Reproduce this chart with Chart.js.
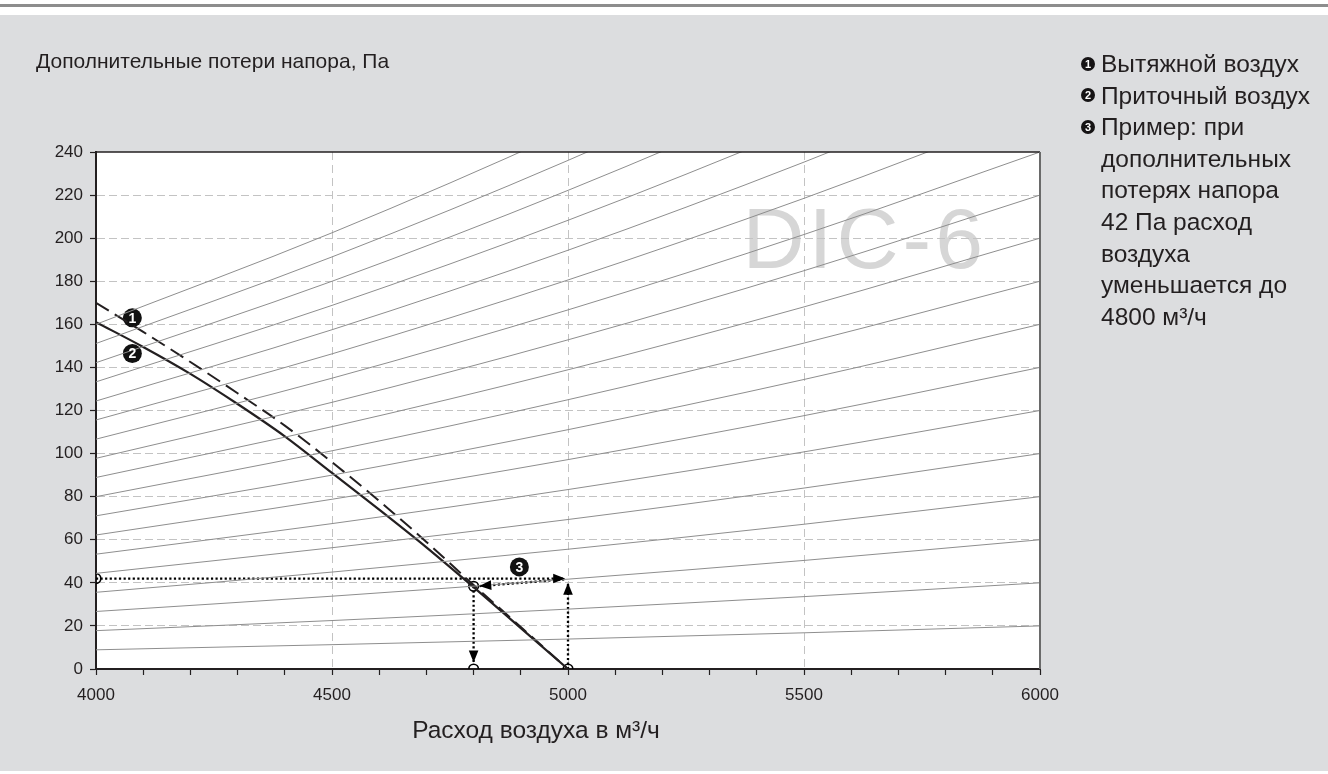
<!DOCTYPE html>
<html lang="ru">
<head>
<meta charset="utf-8">
<title>DIC-6</title>
<script src="https://cdn.jsdelivr.net/npm/chart.js@4.4.1/dist/chart.umd.min.js"></script>
<style>
  html, body { margin: 0; padding: 0; background: #fff; }
  body { width: 1328px; height: 774px; position: relative; overflow: hidden;
         font-family: "Liberation Sans", Arial, sans-serif; color: #231f20; }
  #rule { position: absolute; left: 0; top: 4px; width: 1328px; height: 3px; background: #8d8d8d; }
  #panel { position: absolute; left: 0; top: 15px; width: 1328px; height: 756px; background: #dcdddf; }
  #chartBox { position: absolute; left: 0; top: 0; width: 1328px; height: 774px; }
  #yTitle { position: absolute; left: 36px; top: 49px; font-size: 21px; line-height: 24px; white-space: nowrap; }
  #xTitle { position: absolute; left: 0; width: 1072px; top: 715px; text-align: center;
            font-size: 24.5px; line-height: 30px; white-space: nowrap; }
  #notes { position: absolute; left: 1101px; top: 48px; font-size: 24.5px; line-height: 31.6px; white-space: nowrap; }
  #notes .item { position: relative; }
  #notes .num { position: absolute; left: -20px; top: 8.5px; width: 14px; height: 14px; border-radius: 50%;
                background: #161415; color: #fff; font-size: 11px; font-weight: bold; line-height: 14px; text-align: center; }
</style>
</head>
<body>
<div id="rule"></div>
<div id="panel"></div>
<div id="chartBox"><canvas id="pressureChart" width="1328" height="774"></canvas></div>
<div id="yTitle">Дополнительные потери напора, Па</div>
<div id="xTitle">Расход воздуха в м³/ч</div>
<div id="notes"></div>
<script>
// fan curves, Pa against m3/h
const flowX = [4000, 4100, 4200, 4300, 4400, 4500, 4600, 4700, 4800, 4900, 5000];
const exhaustPa = [170, 156.5, 142.5, 128, 113, 96, 78, 59, 39, 19.5, 0];
const supplyPa = [161, 149.5, 137, 123, 108, 91, 74, 56.5, 38, 19, 0];

// thin duct system curves, read at 4000/4500/5000/5500/6000
const systemX = [4000, 4500, 5000, 5500, 6000];
const systemPa = [
    [8.9, 11.3, 13.9, 16.8, 20],
    [17.8, 22.5, 27.8, 33.6, 40],
    [26.7, 33.8, 41.7, 50.4, 60],
    [35.6, 45, 55.6, 67.2, 80],
    [44.4, 56.3, 69.4, 84, 100],
    [53.3, 67.5, 83.3, 100.8, 120],
    [62.2, 78.8, 97.2, 117.6, 140],
    [71.1, 90, 111.1, 134.4, 160],
    [80, 101.3, 125, 151.3, 180],
    [88.9, 112.5, 138.9, 168.1, 200],
    [97.8, 123.8, 152.8, 184.9, 220],
    [106.7, 135, 166.7, 201.7, 240],
    [115.6, 146.3, 180.6, 218.5, 260],
    [124.4, 157.5, 194.4, 235.3, 280],
    [133.3, 168.8, 208.3, 252.1, 300],
    [142.2, 180, 222.2, 268.9, 320],
    [151.1, 191.3, 236.1, 285.8, 340],
    [160, 202.5, 250, 302.5, 360]
];

// worked example (3): 42 Pa extra -> 4800 m3/h
const exampleRight = [[4000, 42], [4994, 42]];
const exampleUp = [[5000, 0], [5000, 40]];
const exampleBack = [[4992, 41.6], [4900, 40], [4812, 38.5]];
const exampleDown = [[4800, 38.4], [4800, 3]];
const exampleCircles = [[4000, 42], [4800, 38.4], [4800, 0], [5000, 0]];

const curveMarkers = [[4077, 163], [4077, 146.5], [4897, 47.4]];
const markerLabels = ['1', '2', '3'];

const xLabelStep = 500;
const watermark = 'DIC-6';

const notes = [
    { num: '1', lines: ['Вытяжной воздух'] },
    { num: '2', lines: ['Приточный воздух'] },
    { num: '3', lines: ['Пример: при', 'дополнительных', 'потерях напора', '42 Па расход', 'воздуха', 'уменьшается до', '4800 м³/ч'] }
];

const notesBox = document.getElementById('notes');
notes.forEach(n => {
    const item = document.createElement('div');
    item.className = 'item';
    const num = document.createElement('span');
    num.className = 'num';
    num.textContent = n.num;
    item.appendChild(num);
    n.lines.forEach(line => {
        const row = document.createElement('div');
        row.textContent = line;
        item.appendChild(row);
    });
    notesBox.appendChild(item);
});

const toXY = pairs => pairs.map(([x, y]) => ({ x, y }));
const INK = '#231f20';
const GRID = '#c3c3c3';

const datasets = [];
systemPa.forEach(row => {
    datasets.push({
        data: systemX.map((x, i) => ({ x, y: row[i] })),
        showLine: true,
        borderColor: '#8e8e8e',
        borderWidth: 1,
        pointRadius: 0,
        cubicInterpolationMode: 'monotone'
    });
});
datasets.push({
    data: flowX.map((x, i) => ({ x, y: supplyPa[i] })),
    showLine: true,
    borderColor: INK,
    borderWidth: 2.2,
    pointRadius: 0,
    cubicInterpolationMode: 'monotone'
});
datasets.push({
    data: flowX.map((x, i) => ({ x, y: exhaustPa[i] })),
    showLine: true,
    borderColor: INK,
    borderWidth: 2,
    borderDash: [15, 7],
    pointRadius: 0,
    cubicInterpolationMode: 'monotone'
});
[exampleRight, exampleUp, exampleBack, exampleDown].forEach(path => {
    datasets.push({
        data: toXY(path),
        showLine: true,
        borderColor: '#000',
        borderWidth: 2.3,
        borderDash: [2.2, 2.4],
        pointRadius: 0,
        tension: 0.3,
        arrowEnd: true
    });
});
datasets.push({
    data: toXY(exampleCircles),
    showLine: false,
    pointRadius: 4.8,
    pointBorderWidth: 1.6,
    pointBorderColor: '#000',
    pointBackgroundColor: 'rgba(0,0,0,0)'
});
datasets.push({
    data: toXY(curveMarkers),
    showLine: false,
    pointRadius: 9.5,
    pointBorderWidth: 0,
    pointBackgroundColor: '#111',
    markerText: markerLabels
});

const plotBackdrop = {
    id: 'plotBackdrop',
    beforeDraw(chart) {
        const { ctx, chartArea: a } = chart;
        ctx.save();
        ctx.fillStyle = '#fff';
        ctx.fillRect(a.left, a.top, a.right - a.left, a.bottom - a.top);
        ctx.fillStyle = '#d6d6d6';
        ctx.font = '86px "Liberation Sans", Arial, sans-serif';
        ctx.letterSpacing = '4px';
        ctx.textAlign = 'right';
        ctx.textBaseline = 'alphabetic';
        ctx.fillText(watermark, a.right - 53, a.top + 116);
        ctx.restore();
    },
    afterDraw(chart) {
        const { ctx, chartArea: a } = chart;
        ctx.save();
        ctx.strokeStyle = INK;
        ctx.lineWidth = 1.5;
        ctx.beginPath();
        ctx.moveTo(a.left, a.top);
        ctx.lineTo(a.right, a.top);
        ctx.stroke();
        ctx.strokeStyle = '#6a6a6a';
        ctx.lineWidth = 2;
        ctx.beginPath();
        ctx.moveTo(a.right, a.top);
        ctx.lineTo(a.right, a.bottom);
        ctx.stroke();
        ctx.restore();
    }
};

const arrowHeads = {
    id: 'arrowHeads',
    afterDatasetsDraw(chart) {
        const ctx = chart.ctx;
        chart.data.datasets.forEach((ds, i) => {
            const pts = chart.getDatasetMeta(i).data;
            if (ds.arrowEnd) {
                const tip = pts[pts.length - 1];
                const prev = pts[pts.length - 2];
                const ang = Math.atan2(tip.y - prev.y, tip.x - prev.x);
                ctx.save();
                ctx.translate(tip.x, tip.y);
                ctx.rotate(ang);
                ctx.fillStyle = '#000';
                ctx.beginPath();
                ctx.moveTo(0, 0);
                ctx.lineTo(-12, -4.8);
                ctx.lineTo(-12, 4.8);
                ctx.closePath();
                ctx.fill();
                ctx.restore();
            }
            if (ds.markerText) {
                ctx.save();
                ctx.fillStyle = '#fff';
                ctx.font = 'bold 14px "Liberation Sans", Arial, sans-serif';
                ctx.textAlign = 'center';
                ctx.textBaseline = 'middle';
                pts.forEach((p, j) => ctx.fillText(ds.markerText[j], p.x, p.y + 1));
                ctx.restore();
            }
        });
    }
};

Chart.defaults.font.family = '"Liberation Sans", Arial, sans-serif';
Chart.defaults.color = INK;

new Chart(document.getElementById('pressureChart').getContext('2d'), {
    type: 'scatter',
    data: { datasets: datasets },
    options: {
        responsive: false,
        animation: false,
        devicePixelRatio: 1,
        layout: { padding: { top: 152, right: 288, bottom: 0, left: 0 } },
        plugins: {
            legend: { display: false },
            tooltip: { enabled: false }
        },
        scales: {
            x: {
                type: 'linear',
                min: 4000,
                max: 6000,
                ticks: {
                    stepSize: 100,
                    autoSkip: false,
                    maxRotation: 0,
                    padding: 10,
                    font: { size: 17 },
                    callback: v => (v % xLabelStep === 0 ? String(v) : '')
                },
                grid: {
                    color: c => (c.tick && c.tick.value % xLabelStep === 0 && c.tick.value > 4000 && c.tick.value < 6000) ? GRID : 'rgba(0,0,0,0)',
                    lineWidth: 1,
                    tickLength: 6,
                    tickColor: INK,
                    tickWidth: 1.2
                },
                border: { color: INK, width: 2, dash: [8, 5] },
                afterFit: s => { s.height = 105; }
            },
            y: {
                min: 0,
                max: 240,
                ticks: { stepSize: 20, padding: 7, font: { size: 17 } },
                grid: {
                    color: c => (c.tick && c.tick.value > 0 && c.tick.value < 240) ? GRID : 'rgba(0,0,0,0)',
                    lineWidth: 1,
                    tickLength: 6,
                    tickColor: INK,
                    tickWidth: 1.2
                },
                border: { color: INK, width: 2, dash: [8, 4] },
                afterFit: s => { s.width = 96; }
            }
        }
    },
    plugins: [plotBackdrop, arrowHeads]
});
</script>
</body>
</html>
